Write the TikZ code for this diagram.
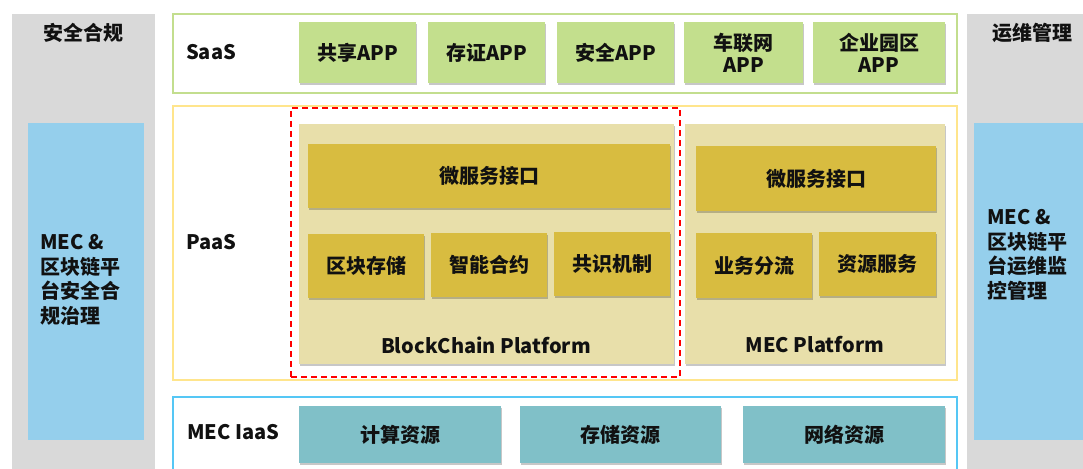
\documentclass[tikz,border=0pt]{standalone}
\usepackage{fontspec}
\setmainfont{Noto Sans CJK SC}
\usetikzlibrary{shadows}
\definecolor{colgray}{HTML}{D9D9D9}
\definecolor{sideblue}{HTML}{95CFEC}
\definecolor{saasgreen}{HTML}{C3DE8E}
\definecolor{appgreen}{HTML}{C3DF8D}
\definecolor{paasyellow}{HTML}{FFE58C}
\definecolor{plattan}{HTML}{E8DFAA}
\definecolor{gold}{HTML}{D8BC40}
\definecolor{iaasblue}{HTML}{55C7F5}
\definecolor{teal}{HTML}{80C0C8}
\definecolor{txt}{HTML}{111111}
\begin{document}
\begin{tikzpicture}[x=1pt,y=-1pt,
  every node/.style={inner sep=0pt, text=txt},
  lbl/.style={font=\bfseries\fontsize{20}{22}\selectfont},
  sz/.style 2 args={minimum width=#1pt, minimum height=#2pt},
  colbox/.style={fill=colgray, draw=none},
  sidebox/.style={fill=sideblue, draw=none},
  layer/.style={draw=#1, line width=2.2pt, fill=white},
  shade/.style={drop shadow={shadow xshift=1.2pt, shadow yshift=-1.8pt, fill=black, opacity=0.22}},
  appbox/.style={fill=appgreen, shade, lbl, align=center},
  platbox/.style={fill=plattan, shade},
  goldbox/.style={fill=gold, shade, lbl},
  resbox/.style={fill=teal, shade, lbl},
  redline/.style={draw=red, line width=1.3pt, dash pattern=on 6pt off 4pt},
  sidetext/.style={align=left, anchor=north west, font=\bfseries\fontsize{20}{24.8}\selectfont}
]
\useasboundingbox (0,0) rectangle (1083,468);
\fill[white] (0,0) rectangle (1083,468);

% side columns
\node[colbox, sz={143}{456}] (lcol) at (83.5,242) {};
\node[lbl] (ltitle) at (83,33) {安全合规};
\node[sidebox, sz={116}{317}] (lside) at (86,281.5) {};
\node[sidetext] (ltext) at (40,234) {MEC \&\\区块链平\\台安全合\\规治理};

\node[colbox, sz={123}{456}] (rcol) at (1028.5,242) {};
\node[lbl] (rtitle) at (1032,33) {运维管理};
\node[sidebox, sz={116}{317}] (rside) at (1032,281.5) {};
\node[sidetext] (rtext) at (987,209) {MEC \&\\区块链平\\台运维监\\控管理};

% SaaS
\node[layer=saasgreen, sz={784}{79}] (saas) at (565,53.5) {};
\node[lbl, anchor=west] (saaslbl) at (186,52) {SaaS};
\node[appbox, sz={117}{61}] (a1) at (357.5,52.5) {共享APP};
\node[appbox, sz={117}{61}] (a2) at (486.5,52.5) {存证APP};
\node[appbox, sz={117}{61}] (a3) at (615.5,52.5) {安全APP};
\node[appbox, sz={119}{61}] (a4) at (743.5,52.5) {车联网\\APP};
\node[appbox, sz={132}{61}] (a5) at (879,52.5) {企业园区\\APP};

% PaaS
\node[layer=paasyellow, sz={784}{274}] (paas) at (565,243) {};
\node[lbl, anchor=west] (paaslbl) at (186,242) {PaaS};

\node[platbox, sz={375}{240}] (bcp) at (486.5,244) {};
\node[lbl] (bcplbl) at (486,345) {BlockChain Platform};
\node[goldbox, sz={362}{64}] (b1) at (489,176) {微服务接口};
\node[goldbox, sz={116}{64}] (b2) at (366,266) {区块存储};
\node[goldbox, sz={116}{64}] (b3) at (489,265) {智能合约};
\node[goldbox, sz={116}{64}] (b4) at (612,264) {共识机制};

\node[platbox, sz={260}{240}] (mecp) at (815,244) {};
\node[lbl] (mecplbl) at (815,345) {MEC Platform};
\node[goldbox, sz={240}{65}] (m1) at (816,178.5) {微服务接口};
\node[goldbox, sz={116}{65}] (m2) at (754,265.5) {业务分流};
\node[goldbox, sz={117}{64}] (m3) at (877.5,264) {资源服务};

\node[redline, sz={389}{269}] (red) at (485.5,242.5) {};

% IaaS
\node[layer=iaasblue, sz={784}{78}] (iaas) at (565,436) {};
\node[lbl, anchor=west] (iaaslbl) at (187,432) {MEC IaaS};
\node[resbox, sz={202}{57}] (r1) at (400,434.5) {计算资源};
\node[resbox, sz={201}{57}] (r2) at (620.5,434.5) {存储资源};
\node[resbox, sz={202}{57}] (r3) at (844,434.5) {网络资源};
\end{tikzpicture}
\end{document}
